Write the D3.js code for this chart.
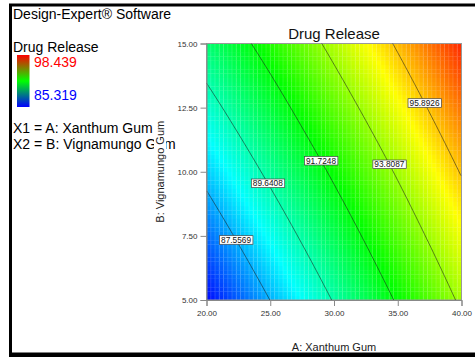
<!DOCTYPE html>
<html>
<head>
<meta charset="utf-8">
<script src="https://d3js.org/d3.v7.min.js"></script>
<style>
  body { margin: 0; background: #fff; }
  text { font-family: "Liberation Sans", Arial, sans-serif; }
</style>
</head>
<body>
<div id="plot"></div>
<script>
const xanthum = [20, 25, 30, 35, 40];        // A: Xanthum Gum
const vignamungo = [5, 7.5, 10, 12.5, 15];   // B: Vignamungo Gum

// Drug release, one row per vignamungo level, one column per xanthum level
const release = [
    [85.43, 87.57, 89.72, 91.86, 94.01],
    [86.67, 88.75, 90.83, 92.91, 94.99],
    [87.92, 89.93, 91.94, 93.95, 95.97],
    [89.16, 91.10, 93.06, 95.00, 96.95],
    [90.41, 92.28, 94.17, 96.04, 97.93]
];

const contourLevels = [87.5569, 89.6408, 91.7248, 93.8087, 95.8926];
const legendRange = [85.319, 98.439];
const xTicks = [20, 25, 30, 35, 40];
const yTicks = [5, 7.5, 10, 12.5, 15];

const width = 475, height = 357;

const svg = d3.select("#plot")
    .append("svg")
    .attr("width", width)
    .attr("height", height);

const x = d3.scaleLinear().domain([20, 40]).range([206.5, 461.5]);
const y = d3.scaleLinear().domain([5, 15]).range([300, 43.5]);

// Design-Expert style rainbow
const lo = legendRange[0], hi = legendRange[1];
const color = d3.scaleLinear()
    .domain([lo, lo + (hi - lo) * 0.25, lo + (hi - lo) * 0.5, lo + (hi - lo) * 0.75, hi])
    .range(["#0000ff", "#00ffff", "#00ff00", "#ffff00", "#ff0000"])
    .clamp(true);

// bilinear lookup in the read grid
function valueAt(a, b) {
    let i = Math.min(Math.floor((a - xanthum[0]) / 5), xanthum.length - 2);
    let j = Math.min(Math.floor((b - vignamungo[0]) / 2.5), vignamungo.length - 2);
    i = Math.max(i, 0); j = Math.max(j, 0);
    const t = (a - xanthum[i]) / (xanthum[i + 1] - xanthum[i]);
    const u = (b - vignamungo[j]) / (vignamungo[j + 1] - vignamungo[j]);
    const v00 = release[j][i], v10 = release[j][i + 1];
    const v01 = release[j + 1][i], v11 = release[j + 1][i + 1];
    return (1 - u) * ((1 - t) * v00 + t * v10) + u * ((1 - t) * v01 + t * v11);
}

// A where the response equals level, for a given B (response rises with A)
function xanthumAt(level, b) {
    const row = xanthum.map(a => valueAt(a, b));
    for (let i = 0; i < row.length - 1; i++) {
        if (level >= row[i] && level <= row[i + 1]) {
            return xanthum[i] + (level - row[i]) / (row[i + 1] - row[i]) * (xanthum[i + 1] - xanthum[i]);
        }
    }
    return null;
}

// Outer frame
svg.append("rect")
    .attr("x", 10.5).attr("y", 5)
    .attr("width", 500).attr("height", 349)
    .attr("fill", "none")
    .attr("stroke", "#000")
    .attr("stroke-width", 3);
svg.append("rect")
    .attr("x", 9).attr("y", 353)
    .attr("width", 470).attr("height", 4)
    .attr("fill", "#000");

// Surface cells
const nCols = 60, nRows = 60;
const cellW = 20 / nCols, cellH = 10 / nRows;
const cells = [];
for (let r = 0; r < nRows; r++) {
    for (let c = 0; c < nCols; c++) {
        const a0 = 20 + c * cellW, b0 = 5 + r * cellH;
        cells.push({ a0: a0, b0: b0, v: valueAt(a0 + cellW / 2, b0 + cellH / 2) });
    }
}

const plot = svg.append("g");
plot.selectAll("rect.cell")
    .data(cells)
    .enter()
    .append("rect")
    .attr("class", "cell")
    .attr("x", d => x(d.a0))
    .attr("y", d => y(d.b0 + cellH))
    .attr("width", x(20 + cellW) - x(20) + 0.3)
    .attr("height", y(5) - y(5 + cellH) + 0.3)
    .attr("fill", d => color(d.v));

// faint column seams like the original rendering
plot.selectAll("line.seam")
    .data(d3.range(1, nCols))
    .enter()
    .append("line")
    .attr("x1", d => x(20 + d * cellW)).attr("x2", d => x(20 + d * cellW))
    .attr("y1", y(5)).attr("y2", y(15))
    .attr("stroke", "#fff")
    .attr("stroke-opacity", 0.18)
    .attr("stroke-width", 0.8);

// plot border
svg.append("rect")
    .attr("x", x(20)).attr("y", y(15))
    .attr("width", x(40) - x(20)).attr("height", y(5) - y(15))
    .attr("fill", "none")
    .attr("stroke", "#999")
    .attr("stroke-width", 1);

// Contour lines
const line = d3.line().x(d => x(d[0])).y(d => y(d[1]));
const bSteps = d3.range(0, 201).map(k => 5 + k * 0.05);
contourLevels.forEach(level => {
    const pts = bSteps
        .map(b => [xanthumAt(level, b), b])
        .filter(p => p[0] !== null);
    svg.append("path")
        .datum(pts)
        .attr("d", line)
        .attr("fill", "none")
        .attr("stroke", "#1a1a1a")
        .attr("stroke-opacity", 0.8)
        .attr("stroke-width", 0.7);
});

// Contour labels (placed at these B values along each line)
const labelB = [7.34, 9.55, 10.43, 10.29, 12.68];
contourLevels.forEach((level, k) => {
    const b = labelB[k];
    const a = xanthumAt(level, b);
    const g = svg.append("g").attr("transform", `translate(${x(a)},${y(b)})`);
    const t = g.append("text")
        .attr("text-anchor", "middle")
        .attr("dy", "0.35em")
        .style("font-size", "8.3px")
        .attr("fill", "#111")
        .text(level.toFixed(4));
    const bb = t.node().getBBox();
    g.insert("rect", "text")
        .attr("x", bb.x - 1.5).attr("y", -4.3)
        .attr("width", bb.width + 3).attr("height", 8.6)
        .attr("fill", "#fff")
        .attr("stroke", "#444")
        .attr("stroke-width", 0.7);
});

// Axes
const xAxis = svg.append("g")
    .attr("transform", `translate(0,${y(5)})`)
    .call(d3.axisBottom(x).tickValues(xTicks).tickFormat(d3.format(".2f")).tickSize(6).tickPadding(4));
const yAxis = svg.append("g")
    .attr("transform", `translate(${x(20)},0)`)
    .call(d3.axisLeft(y).tickValues(yTicks).tickFormat(d3.format(".2f")).tickSize(6).tickPadding(3));
[xAxis, yAxis].forEach(ax => {
    ax.selectAll("path, line").attr("stroke", "#888");
    ax.selectAll("text").attr("fill", "#333").style("font-size", "8px")
        .style("font-family", "'Liberation Sans', Arial, sans-serif");
});

// Title
svg.append("text")
    .attr("x", (x(20) + x(40)) / 2).attr("y", 38.5)
    .attr("text-anchor", "middle")
    .style("font-size", "15px")
    .attr("fill", "#111")
    .text("Drug Release");

// Left panel
svg.append("text").attr("x", 13).attr("y", 19).style("font-size", "14px").text("Design-Expert\u00AE Software");
svg.append("text").attr("x", 13).attr("y", 52).style("font-size", "14px").text("Drug Release");

const grad = svg.append("defs").append("linearGradient")
    .attr("id", "legendGrad")
    .attr("x1", 0).attr("y1", 0).attr("x2", 0).attr("y2", 1);
grad.append("stop").attr("offset", "0%").attr("stop-color", "#ff0000");
grad.append("stop").attr("offset", "50%").attr("stop-color", "#00ff00");
grad.append("stop").attr("offset", "100%").attr("stop-color", "#0000ff");
svg.append("rect")
    .attr("x", 17).attr("y", 55)
    .attr("width", 12.5).attr("height", 52)
    .attr("fill", "url(#legendGrad)");

svg.append("text").attr("x", 34).attr("y", 67).style("font-size", "14px")
    .attr("fill", "#ff0000").text(legendRange[1].toFixed(3));
svg.append("text").attr("x", 34).attr("y", 100).style("font-size", "14px")
    .attr("fill", "#0000ff").text(legendRange[0].toFixed(3));

svg.append("text").attr("x", 13).attr("y", 133).style("font-size", "14px").text("X1 = A: Xanthum Gum");
svg.append("text").attr("x", 13).attr("y", 149).style("font-size", "14px").text("X2 = B: Vignamungo Gum");

// Axis titles
svg.append("text")
    .attr("x", (x(20) + x(40)) / 2).attr("y", 351)
    .attr("text-anchor", "middle")
    .style("font-size", "11px")
    .attr("fill", "#222")
    .text("A: Xanthum Gum");

// y title sits on a white box that hides part of the legend text
const yTitle = svg.append("g")
    .attr("transform", `translate(164,${(y(5) + y(15)) / 2}) rotate(-90)`);
const yt = yTitle.append("text")
    .attr("text-anchor", "middle")
    .style("font-size", "11px")
    .attr("fill", "#222")
    .text("B: Vignamungo Gum");
const ybb = yt.node().getBBox();
yTitle.insert("rect", "text")
    .attr("x", ybb.x).attr("y", ybb.y)
    .attr("width", ybb.width).attr("height", ybb.height)
    .attr("fill", "#fff");
</script>
</body>
</html>
